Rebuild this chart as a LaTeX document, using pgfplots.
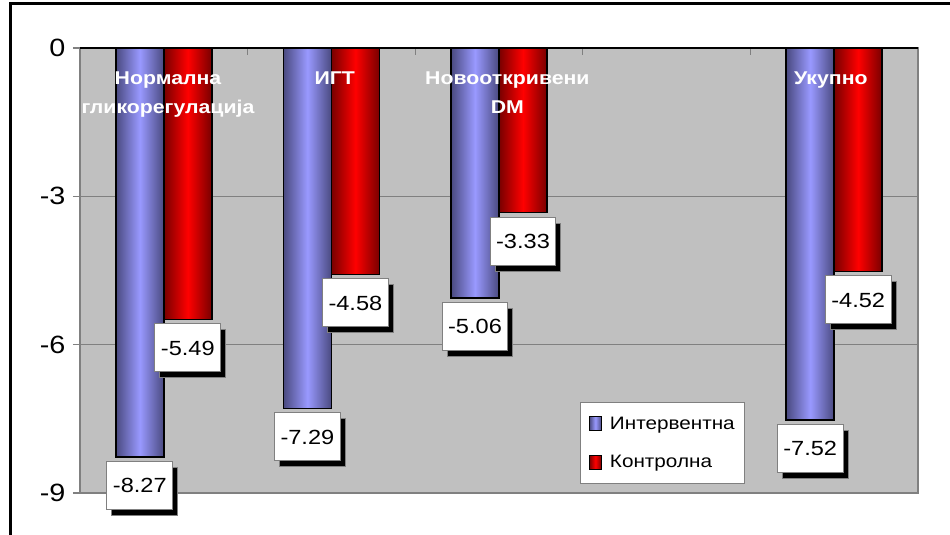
\documentclass[border=0pt]{standalone}
\usepackage{pgfplots}
\pgfplotsset{compat=1.18}
\usepackage{fontspec}
\setmainfont{Liberation Sans}[FakeStretch=1.15]
\usetikzlibrary{shadows}

\definecolor{plotgray}{HTML}{C0C0C0}
\definecolor{gridgray}{HTML}{808080}
\definecolor{bluemid}{HTML}{9999FF}
\definecolor{blueedge}{HTML}{4A4A80}
\definecolor{redmid}{HTML}{FF0000}
\definecolor{rededge}{HTML}{780000}

\pgfplotsset{
  bluebar/.style={draw=black, line width=1.5pt, left color=blueedge, right color=blueedge, middle color=bluemid, bar shift=-24pt},
  redbar/.style={draw=black, line width=1.5pt, left color=rededge, right color=rededge, middle color=redmid, bar shift=24pt},
}

\begin{document}
\begin{tikzpicture}
\path[use as bounding box] (0,0) rectangle (950pt,535pt);
\draw[line width=3pt] (10pt,0pt) -- (10pt,531pt) -- (951pt,531pt);
\begin{axis}[
  at={(80pt,42pt)}, anchor=south west,
  scale only axis, width=838pt, height=445pt,
  xmin=-0.5, xmax=4.5, ymin=-9, ymax=0,
  ybar=0pt, bar width=48pt,
  clip=false,
  axis background/.style={fill=plotgray},
  axis line style={draw=gridgray, line width=1.5pt},
  xtick={0.5,1.5,2.5,3.5}, xticklabels={},
  xtick pos=upper, xtick align=inside,
  ytick={-9,-6,-3,0}, yticklabels={-9,-6,-3,0},
  ytick pos=left, ytick align=outside,
  major tick length=7pt,
  tick style={draw=gridgray, line width=1.2pt},
  ymajorgrids, major grid style={draw=gridgray, line width=1.2pt},
  yticklabel style={font=\fontsize{25}{25}\selectfont, xshift=-4pt},
  point meta=explicit symbolic,
  nodes near coords,
  every node near coord/.append style={anchor=north, yshift=-4pt,
    fill=white, draw=gridgray, line width=1pt, text=black,
    font=\fontsize{20.5}{22}\selectfont, minimum height=48pt, inner xsep=6pt,
    drop shadow={shadow xshift=5pt, shadow yshift=-6pt, opacity=1,
      left color=black, right color=black, middle color=black}},
  legend style={at={(0.597,0.204)}, anchor=north west, draw=gridgray,
    fill=white, line width=1pt, font=\fontsize{18}{20}\selectfont,
    row sep=21pt, inner xsep=8pt, inner ysep=12pt,
    /tikz/every odd column/.append style={column sep=6pt}},
  legend cell align=left,
  legend image code/.code={\draw[#1, draw=black, line width=1.2pt] (0pt,-7pt) rectangle (12pt,7pt);},
]
% Интервентна
\addplot[bluebar] coordinates {(0,-8.27) [-8.27]};
\addlegendentry{Интервентна}
\addplot[bluebar, forget plot] coordinates {(1,-7.29) [-7.29]};
\addplot[bluebar, forget plot] coordinates {(2,-5.06) [-5.06]};
\addplot[bluebar, forget plot] coordinates {(4,-7.52) [-7.52]};
% Контролна
\addplot[redbar] coordinates {(0,-5.49) [-5.49]};
\addlegendentry{Контролна}
\addplot[redbar, forget plot] coordinates {(1,-4.58) [-4.58]};
\addplot[redbar, forget plot] coordinates {(2,-3.33) [-3.33]};
\addplot[redbar, forget plot] coordinates {(4,-4.52) [-4.52]};

\draw[black, line width=2pt] (axis cs:-0.5,0) -- (axis cs:4.5,0);
\begin{scope}[every node/.style={anchor=north, inner sep=0pt, align=center, text=white,
    font=\bfseries\fontsize{18.5}{29}\selectfont}]
\node at (axis cs:0.025,-0.485) {Нормална\\гликорегулација};
\node at (axis cs:1.02,-0.485) {ИГТ};
\node at (axis cs:2.05,-0.485) {Новооткривени\\DM};
\node at (axis cs:3.98,-0.485) {Укупно};
\end{scope}
\end{axis}
\end{tikzpicture}
\end{document}
